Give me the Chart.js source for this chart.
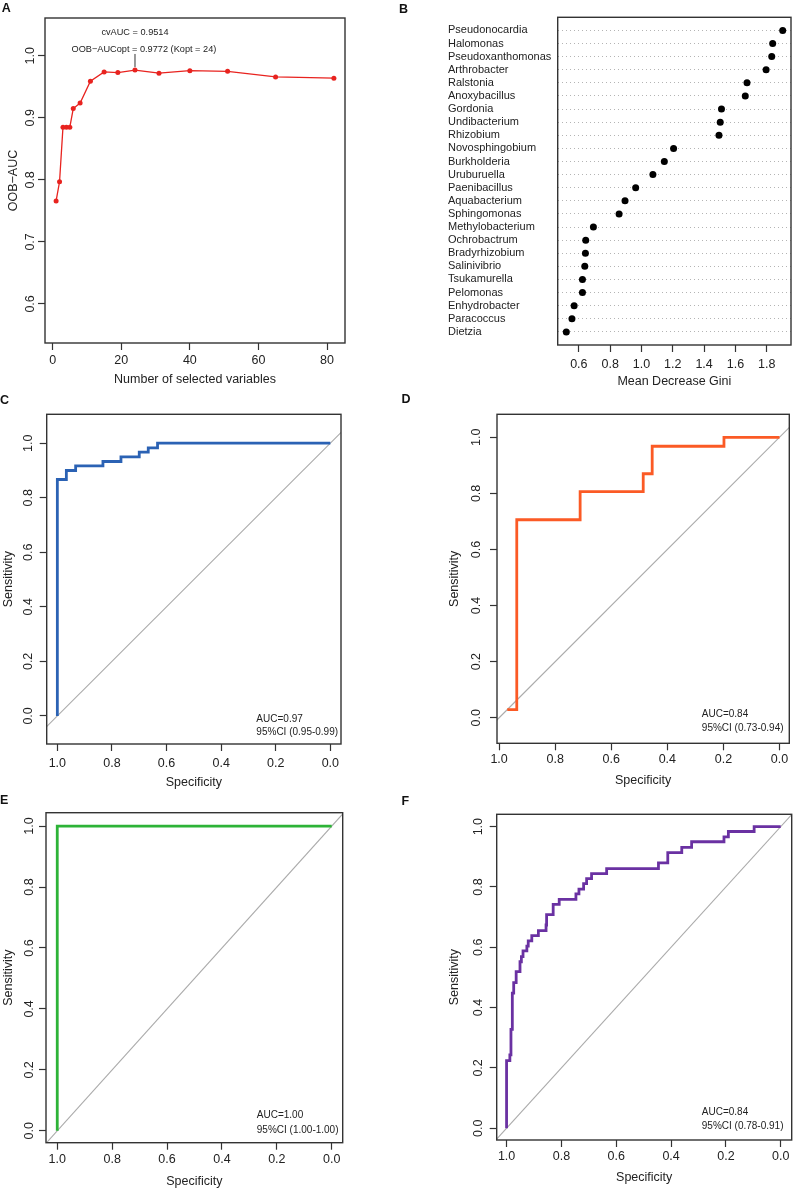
<!DOCTYPE html>
<html>
<head>
  <meta charset="utf-8">
  <title>Variable selection and ROC curves</title>
  <style>
    body {
      margin: 0;
      background: #fff;
    }
    #page {
      position: relative;
      width: 795px;
      height: 1190px;
      overflow: hidden;
    }
    .panel {
      position: absolute;
    }
    .tag {
      position: absolute;
      font: bold 12.5px "Liberation Sans", Arial, sans-serif;
      line-height: 1;
      color: #111;
    }
  </style>
</head>
<body>
<div id="page">
  <div class="panel" style="left:0px;top:0px;width:360px;height:400px"><canvas id="chartA" width="360" height="400"></canvas></div>
  <div class="panel" style="left:448px;top:0px;width:347px;height:400px"><canvas id="chartB" width="347" height="400"></canvas></div>
  <div class="panel" style="left:0px;top:396px;width:355px;height:404px"><canvas id="chartC" width="355" height="404"></canvas></div>
  <div class="panel" style="left:440px;top:396px;width:355px;height:404px"><canvas id="chartD" width="355" height="404"></canvas></div>
  <div class="panel" style="left:0px;top:795px;width:355px;height:395px"><canvas id="chartE" width="355" height="395"></canvas></div>
  <div class="panel" style="left:440px;top:795px;width:355px;height:395px"><canvas id="chartF" width="355" height="395"></canvas></div>
  <div class="tag" style="left:1.7px;top:1.7px">A</div>
  <div class="tag" style="left:399px;top:2.5px">B</div>
  <div class="tag" style="left:0px;top:394.4px">C</div>
  <div class="tag" style="left:401.5px;top:393.4px">D</div>
  <div class="tag" style="left:0px;top:794.4px">E</div>
  <div class="tag" style="left:401.5px;top:795.4px">F</div>
</div>
<script src="https://cdn.jsdelivr.net/npm/chart.js@4"></script>
<script>
  // ---- data ----
  // A: OOB-AUC against number of selected variables
  const nVars = [1, 2, 3, 4, 5, 6, 8, 11, 15, 19, 24, 31, 40, 51, 65, 82];
  const oobAuc = [0.766, 0.797, 0.885, 0.885, 0.885, 0.915, 0.924, 0.959, 0.974, 0.973, 0.977, 0.972, 0.976, 0.975, 0.966, 0.964];
  const aXTicks = [0, 20, 40, 60, 80];
  const aYTicks = [0.6, 0.7, 0.8, 0.9, 1.0];

  // B: importance (mean decrease Gini), top to bottom
  const genera = ["Pseudonocardia", "Halomonas", "Pseudoxanthomonas", "Arthrobacter", "Ralstonia",
    "Anoxybacillus", "Gordonia", "Undibacterium", "Rhizobium", "Novosphingobium", "Burkholderia",
    "Uruburuella", "Paenibacillus", "Aquabacterium", "Sphingomonas", "Methylobacterium",
    "Ochrobactrum", "Bradyrhizobium", "Salinivibrio", "Tsukamurella", "Pelomonas",
    "Enhydrobacter", "Paracoccus", "Dietzia"];
  const giniValues = [1.902, 1.838, 1.832, 1.796, 1.674, 1.663, 1.511, 1.503, 1.495, 1.205, 1.146,
    1.073, 0.963, 0.895, 0.857, 0.693, 0.644, 0.642, 0.638, 0.623, 0.623, 0.570, 0.556, 0.520];
  const bXTicks = [0.6, 0.8, 1.0, 1.2, 1.4, 1.6, 1.8];

  // ROC curves (specificity, sensitivity), each pair ends a horizontal step
  const rocTicks = [0, 0.2, 0.4, 0.6, 0.8, 1.0];
  const specC = [1, 0.967, 0.933, 0.833, 0.767, 0.700, 0.667, 0.633, 0];
  const sensC = [0, 0.867, 0.900, 0.917, 0.933, 0.950, 0.967, 0.983, 1];
  const specD = [0.971, 0.937, 0.711, 0.486, 0.454, 0.198, 0];
  const sensD = [0.029, 0.029, 0.706, 0.806, 0.870, 0.968, 1];
  const specE = [1, 1, 0];
  const sensE = [0, 1, 1];
  const specF = [1, 0.988, 0.984, 0.979, 0.974, 0.965, 0.951, 0.946, 0.940, 0.926, 0.921, 0.908,
    0.884, 0.856, 0.854, 0.830, 0.808, 0.747, 0.736, 0.719, 0.708, 0.690, 0.635, 0.446, 0.412,
    0.361, 0.325, 0.207, 0.191, 0.097, 0];
  const sensF = [0, 0.224, 0.243, 0.328, 0.448, 0.483, 0.519, 0.552, 0.569, 0.588, 0.604, 0.621,
    0.639, 0.655, 0.674, 0.708, 0.742, 0.759, 0.777, 0.793, 0.811, 0.828, 0.844, 0.861, 0.880,
    0.914, 0.931, 0.950, 0.966, 0.984, 1];
  // chance line (sens = 1 - spec), clipped by the plot box
  const chanceSpec = [1.2, -0.2];

  // ---- shared look ----
  const FONT = '"Liberation Sans", Arial, Helvetica, sans-serif';
  Chart.defaults.font.family = FONT;
  Chart.defaults.font.size = 12.5;
  Chart.defaults.color = "#222";
  Chart.defaults.animation = false;

  // R-style box round the plot region
  const boxPlugin = {
    id: "box",
    afterDraw(chart) {
      const a = chart.chartArea, ctx = chart.ctx;
      ctx.save();
      ctx.strokeStyle = "#333";
      ctx.lineWidth = 1.4;
      ctx.strokeRect(a.left, a.top, a.right - a.left, a.bottom - a.top);
      ctx.restore();
    }
  };

  // text placed in data coordinates
  function notesPlugin(items, size, segs) {
    return {
      id: "notes",
      afterDatasetsDraw(chart) {
        const ctx = chart.ctx, xs = chart.scales.x, ys = chart.scales.y;
        ctx.save();
        ctx.fillStyle = "#222";
        ctx.font = size + "px " + FONT;
        ctx.textBaseline = "middle";
        items.forEach(it => {
          ctx.textAlign = it.align || "left";
          ctx.fillText(it.text, xs.getPixelForValue(it.x), ys.getPixelForValue(it.y));
        });
        (segs || []).forEach(s => {
          ctx.strokeStyle = "#333";
          ctx.lineWidth = 1;
          ctx.beginPath();
          ctx.moveTo(xs.getPixelForValue(s.x), ys.getPixelForValue(s.y0));
          ctx.lineTo(xs.getPixelForValue(s.x), ys.getPixelForValue(s.y1));
          ctx.stroke();
        });
        ctx.restore();
      }
    };
  }

  function fixTicks(values) {
    return s => { s.ticks = values.map(v => ({ value: v })); };
  }

  function xAxis(o) {
    return {
      type: "linear",
      min: o.min,
      max: o.max,
      reverse: !!o.reverse,
      afterBuildTicks: fixTicks(o.ticks),
      afterFit: s => { s.height = o.height; },
      grid: { drawOnChartArea: false, tickLength: 7, tickColor: "#333", tickWidth: 1.2 },
      border: { display: false },
      ticks: { autoSkip: false, minRotation: 0, maxRotation: 0, padding: o.pad, color: "#222",
        callback: o.fmt || (v => v.toFixed(1)) },
      title: { display: true, text: o.title, color: "#222", padding: { top: 0, bottom: o.titlePad } }
    };
  }

  function yAxis(o) {
    return {
      type: "linear",
      min: o.min,
      max: o.max,
      afterBuildTicks: fixTicks(o.ticks),
      afterFit: s => { s.width = o.width; },
      grid: { drawOnChartArea: false, tickLength: 7, tickColor: "#333", tickWidth: 1.2 },
      border: { display: false },
      ticks: { autoSkip: false, minRotation: 90, maxRotation: 90, crossAlign: "center",
        padding: o.pad, color: "#222", callback: v => v.toFixed(1) },
      title: { display: true, text: o.title, color: "#222", padding: { top: o.titlePad, bottom: 0 } }
    };
  }

  const basePlugins = { legend: { display: false }, tooltip: { enabled: false } };

  // ---- A ----
  new Chart(document.getElementById("chartA"), {
    type: "scatter",
    data: {
      datasets: [{
        data: nVars.map((n, i) => ({ x: n, y: oobAuc[i] })),
        showLine: true,
        borderColor: "#e8231f",
        backgroundColor: "#e8231f",
        borderWidth: 1.3,
        pointRadius: 2.5,
        pointBorderWidth: 0
      }]
    },
    options: {
      responsive: false,
      layout: { padding: { top: 18, right: 15, left: 0, bottom: 0 } },
      scales: {
        x: xAxis({ min: -2.24, max: 85.24, ticks: aXTicks, height: 57, pad: 3.5, titlePad: 12.5,
          title: "Number of selected variables", fmt: v => String(v) }),
        y: yAxis({ min: 0.537, max: 1.061, ticks: aYTicks, width: 45, pad: -1.4, titlePad: 6.5,
          title: "OOB\u2212AUC" })
      },
      plugins: basePlugins
    },
    plugins: [boxPlugin, notesPlugin([
      { x: 24, y: 1.037, text: "cvAUC = 0.9514", align: "center" },
      { x: 26.6, y: 1.011, text: "OOB\u2212AUCopt = 0.9772 (Kopt = 24)", align: "center" }
    ], 9.2, [{ x: 24, y0: 1.003, y1: 0.982 }])]
  });

  // ---- B ----
  const nRows = genera.length;
  new Chart(document.getElementById("chartB"), {
    type: "scatter",
    data: {
      datasets: [{
        data: giniValues.map((g, i) => ({ x: g, y: nRows - i })),
        backgroundColor: "#000",
        borderWidth: 0,
        pointRadius: 3.5
      }]
    },
    options: {
      responsive: false,
      layout: { padding: { top: 17.3, right: 3, left: 0, bottom: 0 } },
      scales: {
        x: xAxis({ min: 0.465, max: 1.955, ticks: bXTicks, height: 55, pad: 5.5, titlePad: 10.8,
          title: "Mean Decrease Gini" }),
        y: {
          type: "linear",
          min: 0,
          max: nRows + 1,
          afterBuildTicks: fixTicks(genera.map((g, i) => nRows - i)),
          afterFit: s => { s.width = 109.7; },
          grid: { drawOnChartArea: true, drawTicks: false, tickLength: 0, color: "#b4b4b4", lineWidth: 1 },
          border: { display: false, dash: [1, 3] },
          ticks: { autoSkip: false, crossAlign: "far", padding: 0, color: "#222", font: { size: 11 },
            callback: v => genera[nRows - v] }
        }
      },
      plugins: basePlugins
    },
    plugins: [boxPlugin]
  });

  // ---- ROC panels ----
  function rocChart(id, spec, sens, color, L, notes) {
    return new Chart(document.getElementById(id), {
      type: "scatter",
      data: {
        datasets: [{
          data: spec.map((s, i) => ({ x: s, y: sens[i] })),
          showLine: true,
          stepped: "after",
          borderColor: color,
          borderWidth: 2.8,
          pointRadius: 0,
          order: 0
        }, {
          data: chanceSpec.map(s => ({ x: s, y: 1 - s })),
          showLine: true,
          borderColor: "#ababab",
          borderWidth: 1.1,
          pointRadius: 0,
          order: 1
        }]
      },
      options: {
        responsive: false,
        layout: { padding: { top: L.top, right: L.right, left: 0, bottom: 0 } },
        scales: {
          x: xAxis({ min: L.xMin, max: L.xMax, reverse: true, ticks: rocTicks, height: L.h,
            pad: L.xPad, titlePad: L.xTitlePad, title: "Specificity" }),
          y: yAxis({ min: L.yMin, max: L.yMax, ticks: rocTicks, width: L.w, pad: L.yPad,
            titlePad: L.yTitlePad, title: "Sensitivity" })
        },
        plugins: basePlugins
      },
      plugins: [boxPlugin, notesPlugin(notes, 10)]
    });
  }

  rocChart("chartC", specC, sensC, "#2b62b4",
    { top: 18.3, right: 14, w: 46.7, h: 56, xMin: -0.039, xMax: 1.039, yMin: -0.103, yMax: 1.106,
      xPad: 4.8, xTitlePad: 9.8, yPad: 2.7, yTitlePad: 0.8 },
    [{ x: 0.271, y: -0.011, text: "AUC=0.97" }, { x: 0.271, y: -0.061, text: "95%CI (0.95-0.99)" }]);

  rocChart("chartD", specD, sensD, "#fb5a25",
    { top: 18.3, right: 5.7, w: 57, h: 56.7, xMin: -0.035, xMax: 1.0075, yMin: -0.091, yMax: 1.082,
      xPad: 2.2, xTitlePad: 11.8, yPad: 4.6, yTitlePad: 7.5 },
    [{ x: 0.277, y: 0.012, text: "AUC=0.84" }, { x: 0.277, y: -0.036, text: "95%CI (0.73-0.94)" }]);

  rocChart("chartE", specE, sensE, "#2db337",
    { top: 17.7, right: 12.3, w: 46, h: 47.3, xMin: -0.040, xMax: 1.041, yMin: -0.039, yMax: 1.044,
      xPad: 2.8, xTitlePad: 0.8, yPad: 1, yTitlePad: 1.5 },
    [{ x: 0.273, y: 0.051, text: "AUC=1.00" }, { x: 0.273, y: 0.002, text: "95%CI (1.00-1.00)" }]);

  rocChart("chartF", specF, sensF, "#6a31a2",
    { top: 19.3, right: 3.3, w: 56.7, h: 50, xMin: -0.040, xMax: 1.036, yMin: -0.039, yMax: 1.041,
      xPad: 2.2, xTitlePad: 4.8, yPad: 2.7, yTitlePad: 7.5 },
    [{ x: 0.288, y: 0.053, text: "AUC=0.84" }, { x: 0.288, y: 0.005, text: "95%CI (0.78-0.91)" }]);
</script>
</body>
</html>
